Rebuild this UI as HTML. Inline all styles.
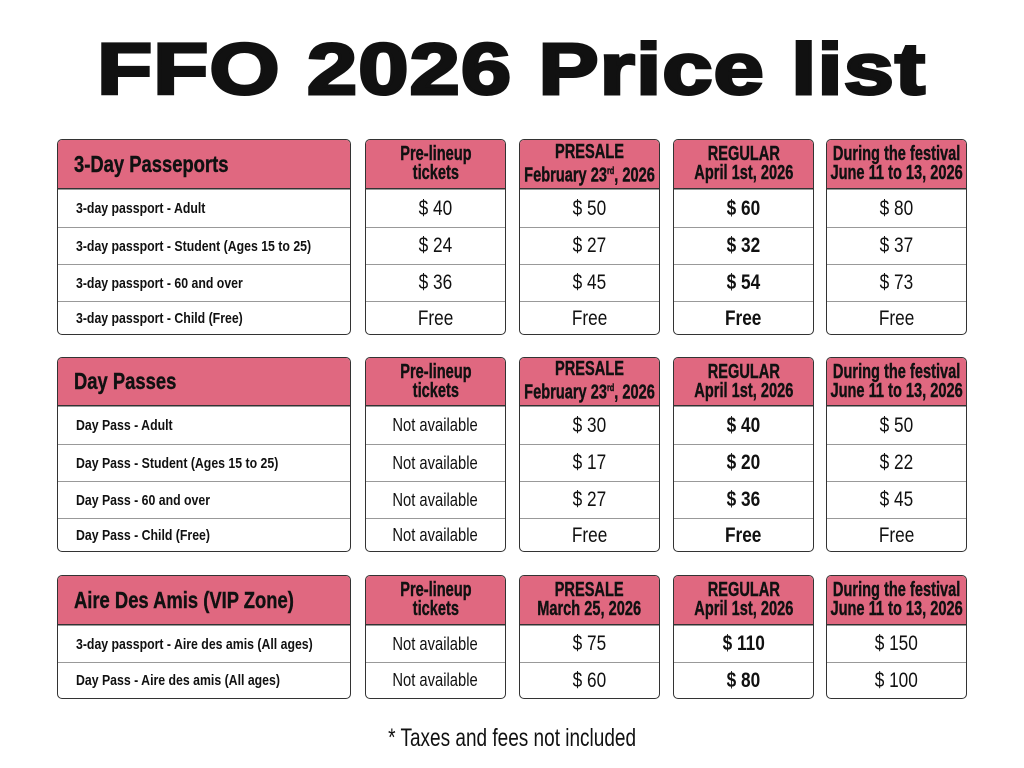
<!DOCTYPE html>
<html><head><meta charset="utf-8"><style>
*{margin:0;padding:0;box-sizing:border-box}
body{width:1024px;height:768px;background:#fff;position:relative;overflow:hidden;font-family:"Liberation Sans Narrow","Liberation Sans",sans-serif;color:#111}
.title{position:absolute;left:0;top:28px;width:1024px;text-align:center;font-family:"Liberation Sans",sans-serif;font-weight:900;font-size:72px;line-height:84px;letter-spacing:1px}
.title span{display:inline-block;transform:scaleX(1.25);-webkit-text-stroke:3px #111}
.box{position:absolute;border:1.5px solid #333;border-radius:5px;overflow:hidden;background:#fff}
.hd{background:#e06880;border-bottom:1.5px solid #333;display:flex;align-items:center;justify-content:center;text-align:center;font-weight:bold;font-size:20px;line-height:19px}
.hd .c{transform:scaleX(.73);-webkit-text-stroke:.4px #111}
.hd.l{justify-content:flex-start;padding-left:16px;font-size:23px}
.hd.l .c{transform:scaleX(.8)}
.r{border-top:1px solid #999;display:flex;align-items:center;justify-content:center;font-size:21px}
.r:first-of-type{border-top:none}
.r.l{justify-content:flex-start;padding-left:18px;font-weight:bold;font-size:15px}
.b{font-weight:bold}
.c{display:inline-block;transform:scaleX(.82);white-space:nowrap}
.l .c{transform-origin:left center}
sup{font-size:10px}
.foot{position:absolute;left:0;width:1024px;top:724px;text-align:center;font-size:25px}
.foot .c{transform:scaleX(.76)}
</style></head><body>
<div class="title"><span>FFO 2026 Price list</span></div>

<!-- Table 1 -->
<div class="box" style="left:57px;top:139px;width:294px;height:196px">
<div class="hd l" style="height:49px"><span class="c">3-Day Passeports</span></div>
<div class="r l" style="height:38px"><span class="c">3-day passport - Adult</span></div>
<div class="r l" style="height:37px"><span class="c">3-day passport - Student (Ages 15 to 25)</span></div>
<div class="r l" style="height:37px"><span class="c">3-day passport - 60 and over</span></div>
<div class="r l" style="height:34px"><span class="c">3-day passport - Child (Free)</span></div>
</div>
<div class="box" style="left:365px;top:139px;width:141px;height:196px">
<div class="hd" style="height:49px"><span class="c">Pre-lineup<br>tickets</span></div>
<div class="r" style="height:38px"><span class="c">$ 40</span></div>
<div class="r" style="height:37px"><span class="c">$ 24</span></div>
<div class="r" style="height:37px"><span class="c">$ 36</span></div>
<div class="r" style="height:34px"><span class="c">Free</span></div>
</div>
<div class="box" style="left:519px;top:139px;width:141px;height:196px">
<div class="hd" style="height:49px"><span class="c">PRESALE<br>February 23<sup>rd</sup>, 2026</span></div>
<div class="r" style="height:38px"><span class="c">$ 50</span></div>
<div class="r" style="height:37px"><span class="c">$ 27</span></div>
<div class="r" style="height:37px"><span class="c">$ 45</span></div>
<div class="r" style="height:34px"><span class="c">Free</span></div>
</div>
<div class="box" style="left:673px;top:139px;width:141px;height:196px">
<div class="hd" style="height:49px"><span class="c">REGULAR<br>April 1st, 2026</span></div>
<div class="r b" style="height:38px"><span class="c">$ 60</span></div>
<div class="r b" style="height:37px"><span class="c">$ 32</span></div>
<div class="r b" style="height:37px"><span class="c">$ 54</span></div>
<div class="r b" style="height:34px"><span class="c">Free</span></div>
</div>
<div class="box" style="left:826px;top:139px;width:141px;height:196px">
<div class="hd" style="height:49px"><span class="c">During the festival<br>June 11 to 13, 2026</span></div>
<div class="r" style="height:38px"><span class="c">$ 80</span></div>
<div class="r" style="height:37px"><span class="c">$ 37</span></div>
<div class="r" style="height:37px"><span class="c">$ 73</span></div>
<div class="r" style="height:34px"><span class="c">Free</span></div>
</div>

<!-- Table 2 -->
<div class="box" style="left:57px;top:357px;width:294px;height:195px">
<div class="hd l" style="height:48px"><span class="c">Day Passes</span></div>
<div class="r l" style="height:38px"><span class="c">Day Pass - Adult</span></div>
<div class="r l" style="height:37px"><span class="c">Day Pass - Student (Ages 15 to 25)</span></div>
<div class="r l" style="height:37px"><span class="c">Day Pass - 60 and over</span></div>
<div class="r l" style="height:34px"><span class="c">Day Pass - Child (Free)</span></div>
</div>
<div class="box" style="left:365px;top:357px;width:141px;height:195px">
<div class="hd" style="height:48px"><span class="c">Pre-lineup<br>tickets</span></div>
<div class="r" style="height:38px;font-size:18px"><span class="c">Not available</span></div>
<div class="r" style="height:37px;font-size:18px"><span class="c">Not available</span></div>
<div class="r" style="height:37px;font-size:18px"><span class="c">Not available</span></div>
<div class="r" style="height:34px;font-size:18px"><span class="c">Not available</span></div>
</div>
<div class="box" style="left:519px;top:357px;width:141px;height:195px">
<div class="hd" style="height:48px"><span class="c">PRESALE<br>February 23<sup>rd</sup>, 2026</span></div>
<div class="r" style="height:38px"><span class="c">$ 30</span></div>
<div class="r" style="height:37px"><span class="c">$ 17</span></div>
<div class="r" style="height:37px"><span class="c">$ 27</span></div>
<div class="r" style="height:34px"><span class="c">Free</span></div>
</div>
<div class="box" style="left:673px;top:357px;width:141px;height:195px">
<div class="hd" style="height:48px"><span class="c">REGULAR<br>April 1st, 2026</span></div>
<div class="r b" style="height:38px"><span class="c">$ 40</span></div>
<div class="r b" style="height:37px"><span class="c">$ 20</span></div>
<div class="r b" style="height:37px"><span class="c">$ 36</span></div>
<div class="r b" style="height:34px"><span class="c">Free</span></div>
</div>
<div class="box" style="left:826px;top:357px;width:141px;height:195px">
<div class="hd" style="height:48px"><span class="c">During the festival<br>June 11 to 13, 2026</span></div>
<div class="r" style="height:38px"><span class="c">$ 50</span></div>
<div class="r" style="height:37px"><span class="c">$ 22</span></div>
<div class="r" style="height:37px"><span class="c">$ 45</span></div>
<div class="r" style="height:34px"><span class="c">Free</span></div>
</div>

<!-- Table 3 -->
<div class="box" style="left:57px;top:575px;width:294px;height:124px">
<div class="hd l" style="height:49px"><span class="c">Aire Des Amis (VIP Zone)</span></div>
<div class="r l" style="height:37px"><span class="c">3-day passport - Aire des amis (All ages)</span></div>
<div class="r l" style="height:36px"><span class="c">Day Pass - Aire des amis (All ages)</span></div>
</div>
<div class="box" style="left:365px;top:575px;width:141px;height:124px">
<div class="hd" style="height:49px"><span class="c">Pre-lineup<br>tickets</span></div>
<div class="r" style="height:37px;font-size:18px"><span class="c">Not available</span></div>
<div class="r" style="height:36px;font-size:18px"><span class="c">Not available</span></div>
</div>
<div class="box" style="left:519px;top:575px;width:141px;height:124px">
<div class="hd" style="height:49px"><span class="c">PRESALE<br>March 25, 2026</span></div>
<div class="r" style="height:37px"><span class="c">$ 75</span></div>
<div class="r" style="height:36px"><span class="c">$ 60</span></div>
</div>
<div class="box" style="left:673px;top:575px;width:141px;height:124px">
<div class="hd" style="height:49px"><span class="c">REGULAR<br>April 1st, 2026</span></div>
<div class="r b" style="height:37px"><span class="c">$ 110</span></div>
<div class="r b" style="height:36px"><span class="c">$ 80</span></div>
</div>
<div class="box" style="left:826px;top:575px;width:141px;height:124px">
<div class="hd" style="height:49px"><span class="c">During the festival<br>June 11 to 13, 2026</span></div>
<div class="r" style="height:37px"><span class="c">$ 150</span></div>
<div class="r" style="height:36px"><span class="c">$ 100</span></div>
</div>

<div class="foot"><span class="c">* Taxes and fees not included</span></div>
</body></html>
